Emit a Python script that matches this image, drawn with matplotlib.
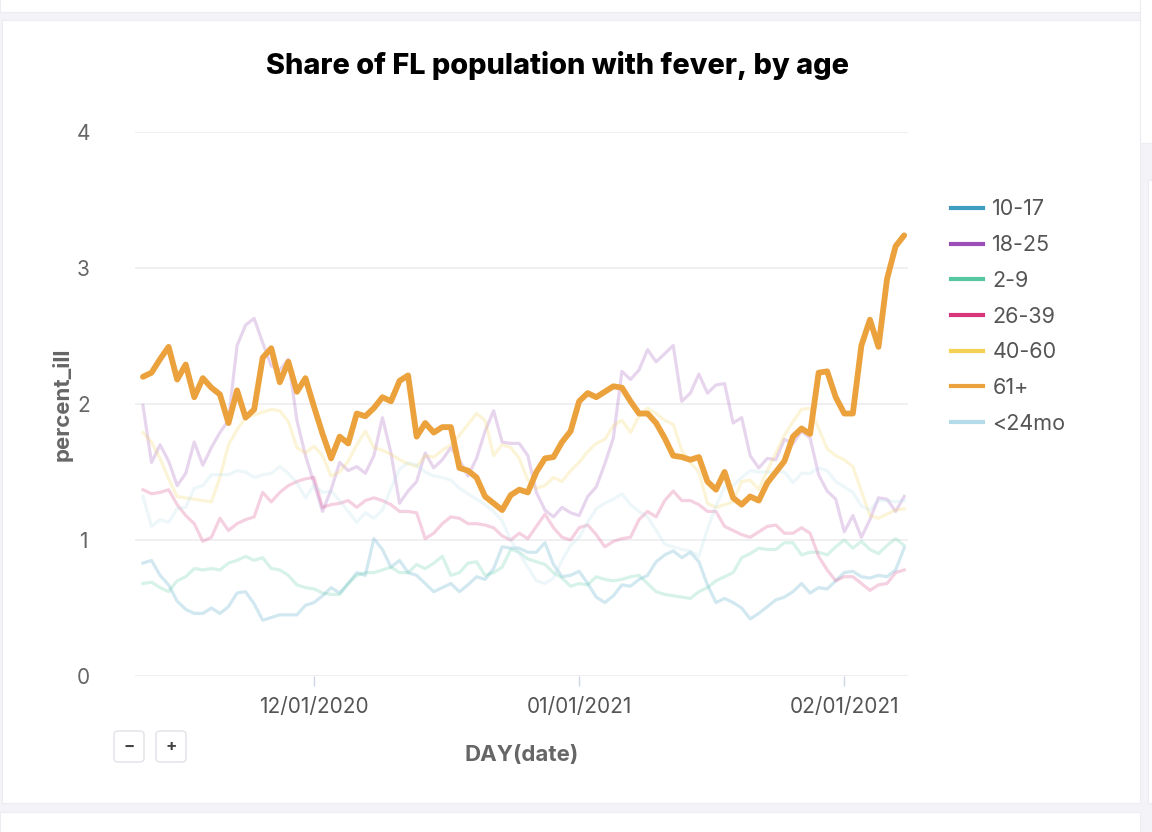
import pandas as pd
import matplotlib
matplotlib.use("Agg")
import matplotlib.pyplot as plt
import matplotlib.dates as mdates
from matplotlib.lines import Line2D
from matplotlib.patches import FancyBboxPatch, Rectangle

plt.rcParams["font.family"] = ["Inter", "DejaVu Sans"]

# ── Data (daily values, 11/11/2020 – 02/08/2021) ─────────────────────────────

dates = pd.date_range("2020-11-11", "2021-02-08", freq="D")

age_10_17 = [0.83, 0.85, 0.74, 0.67, 0.55, 0.49, 0.46, 0.46, 0.50, 0.46,
             0.51, 0.61, 0.62, 0.53, 0.41, 0.43, 0.45, 0.45, 0.45, 0.52,
             0.54, 0.59, 0.65, 0.61, 0.68, 0.76, 0.74, 1.01, 0.93, 0.80,
             0.85, 0.76, 0.74, 0.68, 0.62, 0.65, 0.68, 0.62, 0.67, 0.73,
             0.71, 0.79, 0.95, 0.94, 0.94, 0.91, 0.91, 0.98, 0.82, 0.73,
             0.74, 0.77, 0.68, 0.58, 0.54, 0.59, 0.67, 0.66, 0.71, 0.74,
             0.84, 0.89, 0.92, 0.87, 0.91, 0.84, 0.67, 0.54, 0.57, 0.54,
             0.50, 0.42, 0.46, 0.51, 0.56, 0.58, 0.62, 0.68, 0.61, 0.65,
             0.64, 0.70, 0.76, 0.77, 0.73, 0.72, 0.74, 0.73, 0.78, 0.94]

age_18_25 = [1.99, 1.57, 1.70, 1.58, 1.40, 1.49, 1.72, 1.55, 1.68, 1.79,
             1.88, 2.43, 2.58, 2.63, 2.45, 2.28, 2.25, 2.33, 1.88, 1.62,
             1.42, 1.21, 1.37, 1.57, 1.51, 1.54, 1.49, 1.62, 1.90, 1.64,
             1.27, 1.36, 1.43, 1.64, 1.53, 1.59, 1.68, 1.59, 1.47, 1.60,
             1.80, 1.95, 1.72, 1.71, 1.71, 1.62, 1.35, 1.22, 1.17, 1.24,
             1.20, 1.18, 1.32, 1.39, 1.56, 1.75, 2.24, 2.18, 2.25, 2.40,
             2.31, 2.37, 2.43, 2.02, 2.08, 2.22, 2.08, 2.14, 2.15, 1.86,
             1.90, 1.62, 1.53, 1.60, 1.59, 1.74, 1.71, 1.80, 1.75, 1.48,
             1.36, 1.30, 1.06, 1.18, 1.02, 1.15, 1.31, 1.30, 1.21, 1.32]

age_2_9 = [0.68, 0.69, 0.65, 0.62, 0.70, 0.73, 0.79, 0.78, 0.79, 0.78,
           0.83, 0.85, 0.88, 0.85, 0.87, 0.79, 0.78, 0.74, 0.67, 0.65,
           0.64, 0.61, 0.60, 0.60, 0.68, 0.74, 0.76, 0.76, 0.78, 0.80,
           0.76, 0.76, 0.82, 0.79, 0.83, 0.88, 0.74, 0.76, 0.83, 0.84,
           0.74, 0.76, 0.80, 0.93, 0.91, 0.86, 0.84, 0.82, 0.76, 0.72,
           0.66, 0.68, 0.67, 0.73, 0.71, 0.70, 0.71, 0.73, 0.74, 0.68,
           0.62, 0.60, 0.59, 0.58, 0.57, 0.62, 0.65, 0.70, 0.73, 0.76,
           0.87, 0.90, 0.94, 0.93, 0.93, 0.98, 0.98, 0.89, 0.91, 0.91,
           0.89, 0.95, 1.00, 0.94, 0.99, 0.93, 0.90, 0.96, 1.01, 0.96]

age_26_39 = [1.37, 1.34, 1.35, 1.37, 1.26, 1.18, 1.12, 0.99, 1.02, 1.16,
             1.07, 1.12, 1.15, 1.17, 1.35, 1.28, 1.35, 1.40, 1.43, 1.45,
             1.46, 1.24, 1.26, 1.27, 1.29, 1.24, 1.29, 1.31, 1.29, 1.26,
             1.21, 1.21, 1.20, 1.01, 1.05, 1.12, 1.17, 1.16, 1.12, 1.12,
             1.11, 1.09, 1.03, 1.00, 1.05, 1.01, 1.10, 1.19, 1.09, 1.02,
             1.00, 1.09, 1.11, 1.04, 0.95, 0.99, 1.01, 1.02, 1.15, 1.21,
             1.17, 1.29, 1.36, 1.29, 1.29, 1.26, 1.21, 1.21, 1.10, 1.07,
             1.04, 1.02, 1.06, 1.10, 1.11, 1.05, 1.05, 1.09, 1.05, 0.88,
             0.78, 0.70, 0.73, 0.73, 0.68, 0.63, 0.67, 0.68, 0.76, 0.78]

age_40_60 = [1.79, 1.72, 1.60, 1.45, 1.32, 1.31, 1.30, 1.29, 1.28, 1.46,
             1.70, 1.81, 1.90, 1.92, 1.94, 1.96, 1.95, 1.87, 1.68, 1.64,
             1.69, 1.62, 1.47, 1.50, 1.58, 1.70, 1.80, 1.68, 1.66, 1.63,
             1.59, 1.56, 1.54, 1.62, 1.61, 1.66, 1.70, 1.77, 1.85, 1.93,
             1.88, 1.62, 1.70, 1.68, 1.60, 1.44, 1.38, 1.40, 1.46, 1.43,
             1.51, 1.57, 1.65, 1.71, 1.74, 1.84, 1.88, 1.79, 1.91, 1.97,
             1.93, 1.88, 1.85, 1.66, 1.57, 1.50, 1.27, 1.24, 1.26, 1.28,
             1.43, 1.44, 1.37, 1.51, 1.64, 1.77, 1.87, 1.96, 1.97, 1.82,
             1.67, 1.62, 1.59, 1.54, 1.36, 1.18, 1.16, 1.19, 1.22, 1.23]

age_61_plus = [2.20, 2.23, 2.33, 2.42, 2.18, 2.29, 2.05, 2.19, 2.12, 2.07,
               1.86, 2.10, 1.90, 1.96, 2.34, 2.41, 2.16, 2.31, 2.09, 2.19,
               1.98, 1.78, 1.60, 1.76, 1.71, 1.93, 1.91, 1.97, 2.05, 2.02,
               2.17, 2.21, 1.76, 1.86, 1.79, 1.83, 1.83, 1.53, 1.51, 1.46,
               1.32, 1.27, 1.22, 1.33, 1.37, 1.35, 1.50, 1.60, 1.61, 1.72,
               1.80, 2.02, 2.08, 2.05, 2.09, 2.13, 2.12, 2.02, 1.93, 1.93,
               1.86, 1.75, 1.62, 1.61, 1.59, 1.61, 1.43, 1.37, 1.50, 1.31,
               1.26, 1.32, 1.29, 1.42, 1.50, 1.58, 1.76, 1.82, 1.78, 2.23,
               2.24, 2.05, 1.93, 1.93, 2.43, 2.62, 2.42, 2.92, 3.16, 3.24]

age_under_24mo = [1.32, 1.10, 1.15, 1.13, 1.23, 1.24, 1.38, 1.40, 1.48, 1.48,
                  1.48, 1.51, 1.50, 1.46, 1.48, 1.49, 1.54, 1.49, 1.42, 1.31,
                  1.40, 1.35, 1.36, 1.29, 1.21, 1.13, 1.20, 1.16, 1.22, 1.38,
                  1.52, 1.57, 1.55, 1.50, 1.47, 1.46, 1.44, 1.38, 1.34, 1.30,
                  1.26, 1.21, 1.14, 1.00, 0.90, 0.80, 0.70, 0.68, 0.72, 0.85,
                  0.96, 1.02, 1.13, 1.23, 1.27, 1.30, 1.34, 1.26, 1.21, 1.17,
                  1.07, 0.97, 0.95, 0.93, 0.92, 0.88, 1.08, 1.25, 1.39, 1.40,
                  1.46, 1.51, 1.50, 1.50, 1.50, 1.50, 1.42, 1.49, 1.49, 1.53,
                  1.51, 1.43, 1.39, 1.35, 1.25, 1.22, 1.29, 1.29, 1.28, 1.29]

groups = ["10-17", "18-25", "2-9", "26-39", "40-60", "61+", "<24mo"]
colors = ["#3f9dc1", "#9b4db8", "#55c8a2", "#d8357a", "#f4d152", "#eba13c", "#b3dce8"]
series = [age_10_17, age_18_25, age_2_9, age_26_39, age_40_60, age_61_plus, age_under_24mo]
tick_dates = ["2020-12-01", "2021-01-01", "2021-02-01"]


# ── Figure ────────────────────────────────────────────────────────────────────

fig = plt.figure(figsize=(11.52, 8.32), dpi=100)
fig.patch.set_facecolor("#f4f4f8")

W, H = 1152, 832

def box(x0, y0, x1, y1):
    # pixel box (top-left origin) -> figure fraction rect
    return (x0 / W, 1 - y1 / H), (x1 - x0) / W, (y1 - y0) / H

# page cards
for (x0, y0, x1, y1) in [(0, -10, 1140, 12), (2, 20, 1140, 803), (0, 812, 1140, 850),
                         (1140, -10, 1160, 143), (1148, 180, 1160, 803)]:
    xy, w, h = box(x0, y0, x1, y1)
    fig.patches.append(Rectangle(xy, w, h, transform=fig.transFigure,
                                 facecolor="white", edgecolor="#ececf2", lw=0.8, zorder=-5))

ax = fig.add_axes([135 / W, 1 - 676 / H, (908 - 135) / W, (676 - 132) / H])
ax.set_facecolor("none")
ax.set_zorder(3)

for name, vals, col in zip(groups, series, colors):
    if name == "61+":
        ax.plot(dates, vals, color=col, lw=4.2, zorder=5, solid_joinstyle="round",
                solid_capstyle="round", clip_on=False)
    else:
        ax.plot(dates, vals, color=col, lw=2.3, alpha=0.23, zorder=3)

ax.set_ylim(0, 4)
ax.set_xlim(dates[0] - pd.Timedelta(days=0.93), dates[-1] + pd.Timedelta(days=0.45))
ax.set_yticks([0, 1, 2, 3, 4])
ax.grid(axis="y", color="#efeff2", lw=1.3, zorder=0)
ax.set_axisbelow(True)
for s in ax.spines.values():
    s.set_visible(False)

ax.set_xticks(pd.to_datetime(tick_dates))
ax.xaxis.set_major_formatter(mdates.DateFormatter("%m/%d/%Y"))
ax.tick_params(axis="x", length=7, width=1, color="#cdd6e4", labelsize=15,
               labelcolor="#555555", pad=8)
ax.tick_params(axis="y", length=0, labelsize=15, labelcolor="#666666", pad=37)
for lbl in ax.get_yticklabels():
    lbl.set_horizontalalignment("center")

ax.set_ylabel("percent_ill", fontsize=16, fontweight="bold", color="#666666", labelpad=3)
ax.set_xlabel("DAY(date)", fontsize=16, fontweight="bold", color="#666666", labelpad=20)

fig.text(557 / W, 1 - 65 / H, "Share of FL population with fever, by age",
         ha="center", va="center", fontsize=20.8, fontweight="heavy", color="black")

# legend
handles = [Line2D([0], [0], color=c, lw=3) for c in colors]
fig.legend(handles, groups, loc="upper left", bbox_to_anchor=(932 / W, 1 - 180 / H),
           frameon=False, fontsize=15.5, labelcolor="#555555", handlelength=1.45,
           handletextpad=0.45, labelspacing=0.73)

# zoom buttons
for cx, sym in [(129, "−"), (171, "+")]:
    xy, w, h = box(cx - 15, 731, cx + 15, 762)
    fig.patches.append(FancyBboxPatch(xy, w, h, transform=fig.transFigure,
                                      boxstyle="round,pad=0,rounding_size=0.004",
                                      facecolor="white", edgecolor="#e2e2e8", lw=1.0))
    fig.text(cx / W, 1 - 746 / H, sym, ha="center", va="center",
             fontsize=12, fontweight="bold", color="#444444")

fig.savefig("out.png", dpi=100)
